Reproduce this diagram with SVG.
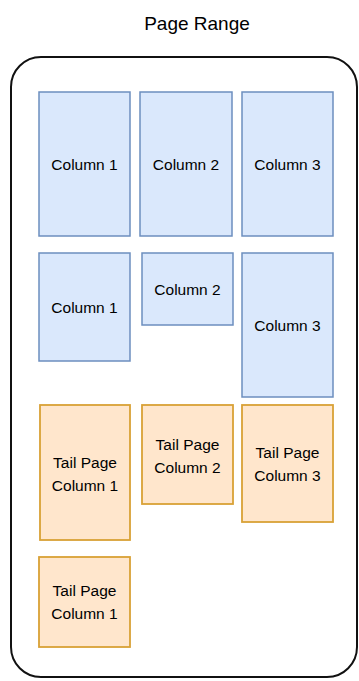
<svg xmlns="http://www.w3.org/2000/svg" width="359" height="681" viewBox="0 0 359 681">
<style>
text{font-family:"Liberation Sans",Arial,sans-serif;fill:#000;text-anchor:middle}
.t{font-size:19px}
.l{font-size:15.5px}
.b{fill:#dae8fc;stroke:#6c8ebf;stroke-width:1.5}
.o{fill:#ffe6cc;stroke:#d9a136;stroke-width:1.8}
</style>
<rect width="359" height="681" fill="#fff"/>
<text class="t" x="197" y="30">Page Range</text>
<g id="range"><rect x="11" y="57" width="346" height="620" rx="30" fill="none" stroke="#111" stroke-width="2"/></g>
<g id="r1c1"><rect class="b" x="39" y="92" width="91" height="144"/><text class="l" x="84.5" y="170">Column 1</text></g>
<g id="r1c2"><rect class="b" x="140" y="92" width="92" height="144"/><text class="l" x="186" y="170">Column 2</text></g>
<g id="r1c3"><rect class="b" x="242" y="92" width="91" height="144"/><text class="l" x="287.5" y="170">Column 3</text></g>
<g id="r2c1"><rect class="b" x="39" y="253" width="91" height="108"/><text class="l" x="84.5" y="313">Column 1</text></g>
<g id="r2c2"><rect class="b" x="142" y="253" width="91" height="72"/><text class="l" x="187.5" y="295">Column 2</text></g>
<g id="r2c3"><rect class="b" x="242" y="253" width="91" height="144"/><text class="l" x="287.5" y="331">Column 3</text></g>
<g id="t1"><rect class="o" x="40" y="405" width="90" height="135"/><text class="l" x="85" y="468">Tail Page</text><text class="l" x="85" y="491">Column 1</text></g>
<g id="t2"><rect class="o" x="142" y="405" width="91" height="99"/><text class="l" x="187.5" y="450">Tail Page</text><text class="l" x="187.5" y="473">Column 2</text></g>
<g id="t3"><rect class="o" x="242" y="405" width="91" height="117"/><text class="l" x="287.5" y="458">Tail Page</text><text class="l" x="287.5" y="481">Column 3</text></g>
<g id="t4"><rect class="o" x="39" y="557" width="91" height="90"/><text class="l" x="84.5" y="596">Tail Page</text><text class="l" x="84.5" y="619">Column 1</text></g>
<g id="connectors"></g>
</svg>
